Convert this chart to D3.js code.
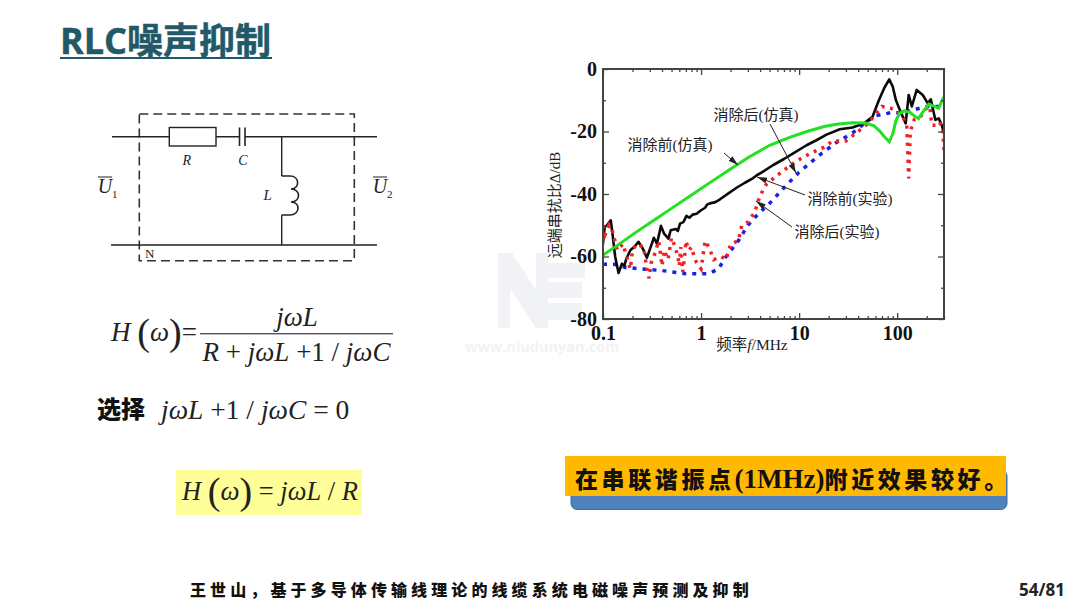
<!DOCTYPE html>
<html><head><meta charset="utf-8">
<script src="https://cdnjs.cloudflare.com/ajax/libs/d3/7.8.5/d3.min.js"></script>
<style>html,body{margin:0;padding:0;background:#fff}svg{display:block}</style>
</head><body><svg id="c" width="1080" height="608"></svg>
<script>
const xTickValues=[0.1,1,10,100];
const xMinorValues=[0.2,0.3,0.4,0.5,0.6,0.7,0.8,0.9,2,3,4,5,6,7,8,9,20,30,40,50,60,70,80,90,200,300];
const yTickValues=[0,-20,-40,-60,-80];
const yMinorValues=[-10,-30,-50,-70];
const greenF=[0.1,0.15,0.2,0.3,0.5,0.8,1.2,2,3,5,8,12,18,25,35,48,58,66,74,83,90,97,105,118,135,150,165,185,210,240,265,285,300];
const greenV=[-59.5,-55.8,-53,-49.3,-44.6,-40.3,-36.6,-32,-28.4,-24.4,-21.9,-20,-18.4,-17.6,-17.2,-17.3,-18.2,-19.8,-21.7,-23.3,-20.8,-16.6,-14.3,-13.4,-13.9,-15,-15.9,-13.5,-11.2,-12,-12.6,-10.2,-9];
const blackF=[0.1,0.104,0.11,0.12,0.126,0.133,0.144,0.156,0.165,0.173,0.19,0.21,0.23,0.255,0.28,0.31,0.33,0.355,0.39,0.42,0.465,0.49,0.55,0.58,0.61,0.66,0.71,0.76,0.82,0.9,1,1.1,1.15,1.23,1.4,1.56,1.9,2.3,2.8,3.4,3.7,4.2,5.4,7,8.7,11.9,15,19,26,35,46,56,65,74,83,90,97,110,122,131,141,158,182,205,220,245,265,285,300];
const blackV=[-55.9,-50.5,-50,-48.4,-53.7,-60,-65.3,-62.3,-63,-60.7,-58,-56.8,-55.3,-57.5,-60.4,-56.5,-54,-55.9,-50.2,-52.7,-54.3,-51.6,-51.2,-51.8,-49.5,-49,-47,-47.6,-46.6,-46.3,-45.2,-44.4,-43.4,-43,-42.6,-41.7,-39.8,-38,-36.4,-34.9,-34,-33,-30.8,-28.8,-27,-24.4,-22.8,-21,-19.3,-18.7,-17.4,-15.3,-10,-6,-3.3,-5.6,-10,-14.2,-17.4,-8.3,-12,-6.7,-8.3,-11,-9.7,-16.3,-15.8,-18,-20.6];
const redF=[0.1,0.105,0.115,0.125,0.14,0.16,0.19,0.2,0.22,0.26,0.28,0.295,0.31,0.33,0.37,0.4,0.42,0.46,0.5,0.53,0.58,0.6,0.62,0.65,0.68,0.7,0.75,0.8,0.85,0.9,1,1.1,1.2,1.35,1.6,1.8,2,2.4,2.6,3,3.5,4,4.6,6,8,10,13,18,22,30,40,50,60,70,85,100,115,125,131,136,150,175,190,215,225,250,270,290,300];
const redV=[-50,-53,-50,-52,-58,-56,-64,-58,-56,-57,-64,-67,-62,-60,-55,-63,-58,-61,-54,-56,-60,-63,-57,-65,-60,-55,-58,-57,-60,-62,-64,-55,-57,-61,-60,-61,-56,-55,-50,-49,-46,-40.5,-37,-34,-31,-29,-27,-25,-23,-23,-20,-17.5,-14.5,-12,-12.5,-13.5,-15.5,-18,-35,-20,-16,-15,-13,-12,-18,-18,-17,-19,-26];
const blueF=[0.1,0.13,0.17,0.25,0.4,0.7,1.2,1.5,1.8,2.4,3,3.8,5,7,10,13,17,24,35,48,60,85,110,150,200,300];
const blueV=[-62.5,-62.5,-63.5,-64,-64.5,-65.5,-65.5,-64,-60,-55,-50,-46.5,-43,-38,-33,-30,-27,-23.5,-20.5,-17,-15,-14,-14,-13,-12,-12];

const SERIF='"Liberation Serif","Noto Sans CJK SC",serif';
const CJK='"Noto Sans CJK SC",sans-serif';
const svg=d3.select('#c');
const PL=603,PR=944,PT=69,PB=319;
const x=d3.scaleLog().domain([0.1,300]).range([PL,PR]);
const y=d3.scaleLinear().domain([-80,0]).range([PB,PT]);

const defs=svg.append('defs');
defs.append('clipPath').attr('id','pc').append('rect').attr('x',PL).attr('y',PT).attr('width',PR-PL).attr('height',PB-PT);
defs.append('marker').attr('id','ah').attr('viewBox','0 0 10 6').attr('refX',10).attr('refY',3)
 .attr('markerWidth',10).attr('markerHeight',6).attr('markerUnits','userSpaceOnUse').attr('orient','auto')
 .append('path').attr('d','M0,0L10,3L0,6Z').attr('fill','#222');

// title
svg.append('text').attr('x',60).attr('y',53.5).attr('font-family','"Open Sans","Noto Sans CJK SC",sans-serif')
 .attr('font-weight',700).attr('font-size',36).attr('fill','#215968').attr('stroke','#215968').attr('stroke-width',0.5).text('RLC噪声抑制');
svg.append('rect').attr('x',60).attr('y',57).attr('width',212).attr('height',2).attr('fill','#215968');

// watermark
const wm=svg.append('g').attr('fill','#f0f2f5');
wm.append('path').attr('d','M498,328V253H512L536,290V253H548V328H536L510,288V328Z');
wm.append('path').attr('d','M548,263H585V278H548ZM548,282H582V298H548ZM548,303H582V320H548Z');
svg.append('text').attr('x',465).attr('y',352).attr('font-family','"Open Sans",sans-serif').attr('font-weight',700)
 .attr('font-size',14.5).attr('fill','#f1f2f4').text('www.niudunyan.com');

// circuit
const cir=svg.append('g').attr('fill','none').attr('stroke','#222').attr('stroke-width',1.4);
cir.append('rect').attr('x',139.3).attr('y',114).attr('width',215).attr('height',146.7).attr('stroke','#333').attr('stroke-width',1.6).attr('stroke-dasharray','9 5');
cir.append('path').attr('d','M112,136.7H169.3M216,136.7H239.5M245,136.7H377M281.7,136.7V176M281.7,215V245M111,245H377');
cir.append('rect').attr('x',169.3).attr('y',127.5).attr('width',46.7).attr('height',18.5);
cir.append('path').attr('d','M239.5,127.5V146M245,127.5V146').attr('stroke-width',1.6);
cir.append('path').attr('d','M281.7,176H290C300,176 300,189 291,189C301,189 301,202 291,202C301,202 300,215 290,215H281.7').attr('stroke-width',1.6);
const it=(t,px,py,fs)=>svg.append('text').attr('x',px).attr('y',py).attr('text-anchor','middle').attr('font-family',SERIF).attr('font-style','italic').attr('font-size',fs||14).attr('fill','#222').text(t);
it('R',186.7,165);it('C',243,165);it('L',267.7,200,15);
svg.append('text').attr('x',145).attr('y',258).attr('font-family',SERIF).attr('font-size',13).attr('fill','#222').text('N');
it('U',105,193,20);it('U',380,193,20);
svg.append('path').attr('d','M98,177H112M373,177H387').attr('stroke','#222').attr('stroke-width',1.2);
svg.append('text').attr('x',112).attr('y',198).attr('font-family',SERIF).attr('font-size',11).attr('fill','#222').text('1');
svg.append('text').attr('x',387).attr('y',198).attr('font-family',SERIF).attr('font-size',11).attr('fill','#222').text('2');

// formulas
function formula(px,py,parts,fs,anchor){
 const t=svg.append('text').attr('x',px).attr('y',py).attr('font-family',SERIF).attr('font-size',fs).attr('fill','#222').attr('text-anchor',anchor||'start').attr('xml:space','preserve');
 parts.forEach(p=>{const s=t.append('tspan').text(p[0]);if(p[1])s.attr('font-style','italic');if(p[2])s.attr('font-size',p[2]);if(p[3])s.attr('dy',p[3]);});
 return t;
}
formula(111,341,[['H',1],[' '],['(',0,38,4],['ω',1,27,-4],[')',0,38,4],['=',0,27,-4]],27);
svg.append('rect').attr('x',200).attr('y',333).attr('width',193).attr('height',1.4).attr('fill','#555');
formula(297,326,[['jωL',1]],27,'middle');
formula(296.5,361,[['R',1],[' + '],['jωL',1],[' +1 / '],['jωC',1]],27,'middle');
svg.append('text').attr('x',97).attr('y',418).attr('font-family',CJK).attr('font-weight',900).attr('font-size',24).attr('fill','#111').text('选择');
formula(161,419,[['jωL',1],[' +1 / '],['jωC',1],[' = 0']],27.5);
svg.append('rect').attr('x',176).attr('y',470).attr('width',186).attr('height',45).attr('fill','#ffff99');
formula(182,500,[['H',1],[' '],['(',0,38,4],['ω',1,27,-4],[')',0,38,4],[' = ',0,26.5,-4],['jωL',1],[' / '],['R',1]],26.5);

// callout
svg.append('rect').attr('x',571).attr('y',470).attr('width',436).attr('height',39.5).attr('rx',6).attr('fill','#4f81bd').attr('stroke','#3f6da4');
svg.append('rect').attr('x',565).attr('y',456).attr('width',441).attr('height',40).attr('fill','#ffb900');
const ct=svg.append('text').attr('x',575).attr('y',488).attr('font-family',CJK).attr('font-weight',900).attr('font-size',23).attr('fill','#111');
ct.append('tspan').attr('letter-spacing',3.6).text('在串联谐振点');
ct.append('tspan').attr('font-family',SERIF).attr('font-size',27).text('(1MHz)');
ct.append('tspan').attr('letter-spacing',3.6).text('附近效果较好。');

// footer
svg.append('text').attr('x',190).attr('y',596).attr('font-family',CJK).attr('font-weight',900).attr('font-size',16).attr('letter-spacing',4.1).attr('fill','#111').text('王世山，基于多导体传输线理论的线缆系统电磁噪声预测及抑制');
svg.append('text').attr('x',1065).attr('y',596).attr('text-anchor','end').attr('font-family','"Open Sans",sans-serif').attr('font-weight',700).attr('font-size',17).attr('fill','#222').text('54/81');

// chart lines
const plot=svg.append('g').attr('clip-path','url(#pc)');
const mk=(F,V)=>d3.line().x((d,i)=>x(F[i])).y((d,i)=>y(V[i]))(V);
plot.append('path').attr('d',mk(blueF,blueV)).attr('fill','none').attr('stroke','#1a22e0').attr('stroke-width',3.5).attr('stroke-dasharray','4 6');
plot.append('path').attr('d',mk(blackF,blackV)).attr('fill','none').attr('stroke','#0a0a0a').attr('stroke-width',2.6).attr('stroke-linejoin','round');
plot.append('path').attr('d',mk(redF,redV)).attr('fill','none').attr('stroke','#ee2222').attr('stroke-width',3.5).attr('stroke-dasharray','3 5.5');
plot.append('path').attr('d',mk(greenF,greenV)).attr('fill','none').attr('stroke','#22e022').attr('stroke-width',3);

// axes
const styleAxis=g=>{g.select('.domain').remove();g.selectAll('line').attr('stroke','#444').attr('stroke-width',1.3);};
const labelStyle=g=>g.selectAll('text').attr('font-family',SERIF).attr('font-weight',700).attr('font-size',20).attr('fill','#111');
const xb=svg.append('g').attr('transform',`translate(0,${PB})`).call(d3.axisBottom(x).tickValues(xTickValues).tickSize(-6).tickPadding(7).tickFormat(d=>String(d)));
styleAxis(xb);labelStyle(xb);
svg.append('g').attr('transform',`translate(0,${PB})`).call(d3.axisBottom(x).tickValues(xMinorValues).tickSize(-3).tickFormat('')).call(styleAxis);
svg.append('g').attr('transform',`translate(0,${PT})`).call(d3.axisTop(x).tickValues(xTickValues).tickSize(-6).tickFormat('')).call(styleAxis);
svg.append('g').attr('transform',`translate(0,${PT})`).call(d3.axisTop(x).tickValues(xMinorValues).tickSize(-3).tickFormat('')).call(styleAxis);
const yl=svg.append('g').attr('transform',`translate(${PL},0)`).call(d3.axisLeft(y).tickValues(yTickValues).tickSize(-6).tickPadding(6).tickFormat(d=>String(d)));
styleAxis(yl);labelStyle(yl);
svg.append('g').attr('transform',`translate(${PL},0)`).call(d3.axisLeft(y).tickValues(yMinorValues).tickSize(-3).tickFormat('')).call(styleAxis);
svg.append('g').attr('transform',`translate(${PR},0)`).call(d3.axisRight(y).tickValues(yTickValues).tickSize(-6).tickFormat('')).call(styleAxis);
svg.append('g').attr('transform',`translate(${PR},0)`).call(d3.axisRight(y).tickValues(yMinorValues).tickSize(-3).tickFormat('')).call(styleAxis);
svg.append('rect').attr('x',PL).attr('y',PT).attr('width',PR-PL).attr('height',PB-PT).attr('fill','none').attr('stroke','#444').attr('stroke-width',2);

// axis titles
const xt=svg.append('text').attr('x',752).attr('y',350).attr('text-anchor','middle').attr('font-family',SERIF).attr('font-size',15.5).attr('fill','#222');
xt.append('tspan').text('频率');xt.append('tspan').attr('font-style','italic').text('f');xt.append('tspan').text('/MHz');
svg.append('text').attr('transform','translate(560,205) rotate(-90)').attr('text-anchor','middle').attr('font-family',SERIF).attr('font-size',15).attr('fill','#222').text('远端串扰比Δ/dB');

// annotations
const ann=svg.append('g');
[['消除后(仿真)',756,120],['消除前(仿真)',670,150],['消除前(实验)',850,204],['消除后(实验)',837,237]].forEach(a=>{
 ann.append('text').attr('x',a[1]).attr('y',a[2]).attr('text-anchor','middle').attr('font-family',SERIF).attr('font-size',15).attr('fill','#222').text(a[0]);});
[[770,124,796,173],[724,153,738,165],[805,195,757,177],[792,227,756,201]].forEach(a=>{
 ann.append('line').attr('x1',a[0]).attr('y1',a[1]).attr('x2',a[2]).attr('y2',a[3]).attr('stroke','#222').attr('stroke-width',1).attr('marker-end','url(#ah)');});
</script></body></html>
